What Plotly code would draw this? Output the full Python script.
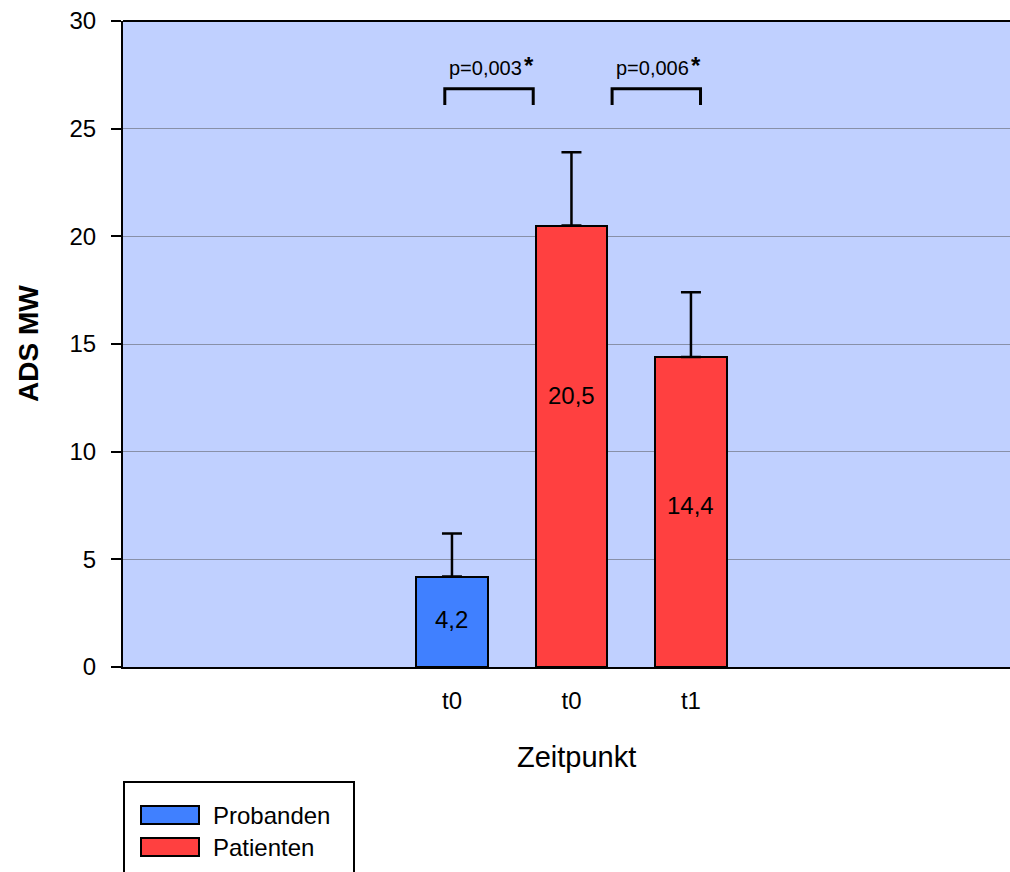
import plotly.graph_objects as go

# ---- data ----
tick_labels = ["t0", "t0", "t1"]
groups = ["Probanden", "Patienten", "Patienten"]
values = [4.2, 20.5, 14.4]
errors_up = [2.0, 3.4, 3.0]
value_labels = ["4,2", "20,5", "14,4"]
label_y = [2.2, 12.6, 7.5]
p_texts = ["p=0,003", "p=0,006"]
p_text_right = [0.60, 2.00]
p_text_y = 27.82
bracket_x0 = [-0.06, 1.34]
bracket_x1 = [0.68, 2.08]
bracket_top = 26.85
bracket_bottom = 26.1
legend_names = ["Probanden", "Patienten"]
colors = {"Probanden": "#4080FF", "Patienten": "#FF4040"}

positions = list(range(len(values)))
FONT = "Liberation Sans, Arial, sans-serif"

fig = go.Figure()
fig.add_trace(go.Bar(
    x=positions, y=values, width=0.6,
    marker=dict(color=[colors[g] for g in groups], line=dict(color="black", width=2)),
    error_y=dict(type="data", array=errors_up, arrayminus=[0]*len(values), symmetric=False,
                 color="black", thickness=2.5, width=10),
    showlegend=False, hoverinfo="skip",
))

# data labels
for x, y, t in zip(positions, label_y, value_labels):
    fig.add_annotation(x=x, y=y, text=t, showarrow=False, yanchor="middle",
                       font=dict(family=FONT, size=24, color="black"))

# significance brackets
for x0, x1, pt, xr in zip(bracket_x0, bracket_x1, p_texts, p_text_right):
    fig.add_shape(type="path",
                  path=f"M {x0} {bracket_bottom} L {x0} {bracket_top} L {x1} {bracket_top} L {x1} {bracket_bottom}",
                  line=dict(color="black", width=3), xref="x", yref="y")
    fig.add_annotation(x=xr, y=p_text_y, xanchor="right", yanchor="middle",
                       text=pt, showarrow=False,
                       font=dict(family=FONT, size=20, color="black"))
    fig.add_annotation(x=xr, y=p_text_y, xanchor="left", yanchor="middle",
                       text="<b>*</b>", showarrow=False, xshift=-2, yshift=2,
                       font=dict(family=FONT, size=24, color="black"))

# top border
fig.add_shape(type="line", xref="paper", yref="paper", x0=0, x1=1, y0=1, y1=1,
              line=dict(color="black", width=2))

# axis titles
fig.add_annotation(xref="paper", yref="paper", x=(28 - 123) / 887, y=0.5,
                   xanchor="center", yanchor="middle",
                   text="<b>ADS MW</b>", textangle=-90, showarrow=False,
                   font=dict(family=FONT, size=28, color="black"))
fig.add_annotation(xref="paper", yref="paper", x=(576 - 123) / 887, y=(667 - 757) / 646,
                   xanchor="center", yanchor="middle",
                   text="Zeitpunkt", showarrow=False,
                   font=dict(family=FONT, size=29, color="black"))

# legend (manual, in paper coords)
def px_x(p):
    return (p - 123) / 887

def px_y(p):
    return (667 - p) / 646

fig.add_shape(type="rect", xref="paper", yref="paper",
              x0=px_x(124), x1=px_x(354), y0=px_y(782), y1=px_y(880),
              line=dict(color="black", width=2), fillcolor="white")
sw_top = [806, 838]
for name, top in zip(legend_names, sw_top):
    fig.add_shape(type="rect", xref="paper", yref="paper",
                  x0=px_x(141), x1=px_x(199), y0=px_y(top), y1=px_y(top + 18),
                  line=dict(color="black", width=2), fillcolor=colors[name])
    fig.add_annotation(xref="paper", yref="paper", x=px_x(211), y=px_y(top + 9),
                       xanchor="left", yanchor="middle", text=name, showarrow=False,
                       font=dict(family=FONT, size=24, color="black"))

fig.update_layout(
    width=1010, height=872,
    margin=dict(l=123, r=0, t=21, b=205),
    paper_bgcolor="white", plot_bgcolor="#C0D0FF",
    font=dict(family=FONT, size=24, color="black"),
    bargap=0,
)
fig.update_xaxes(
    range=[-2.753, 4.67], tickmode="array", tickvals=positions, ticktext=tick_labels,
    showgrid=False, zeroline=False, showline=True, linecolor="black", linewidth=2,
    ticks="", ticklabelstandoff=11, tickfont=dict(size=24),
)
fig.update_yaxes(
    range=[0, 30], tickvals=[0, 5, 10, 15, 20, 25, 30],
    showgrid=True, gridcolor="#8890A8", gridwidth=1, zeroline=False,
    showline=True, linecolor="black", linewidth=2,
    ticks="outside", ticklen=10, tickwidth=2, tickcolor="black",
    ticklabelstandoff=10, tickfont=dict(size=24),
)

fig.write_html("out.html")
